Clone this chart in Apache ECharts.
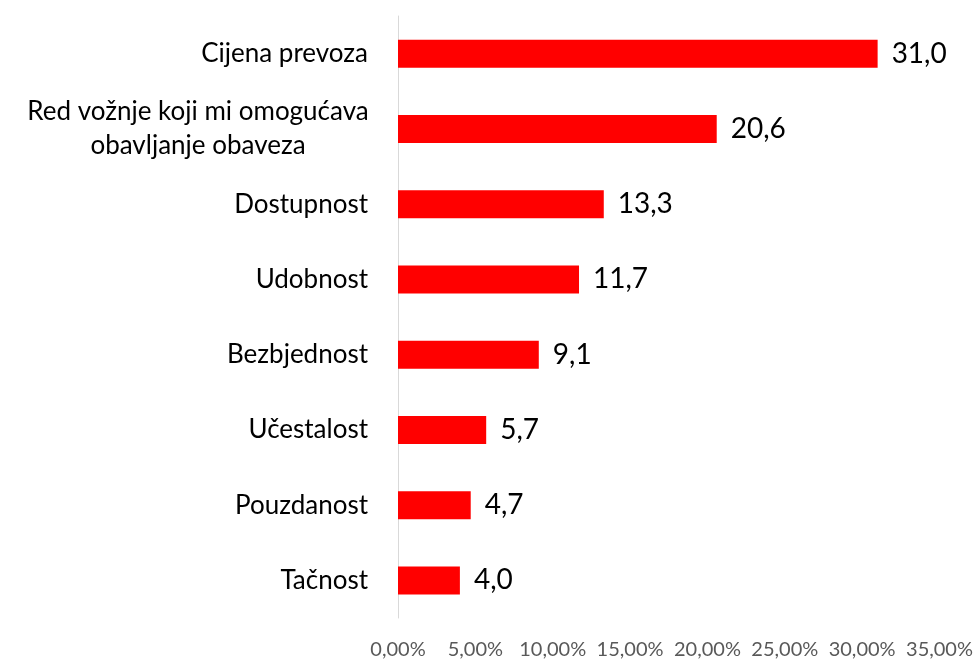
<!DOCTYPE html>
<html>
<head>
<meta charset="utf-8">
<script src="https://cdn.jsdelivr.net/npm/echarts@6/dist/echarts.min.js"></script>
<style>
html, body { margin: 0; padding: 0; background: #fff; }
#chart { width: 976px; height: 660px; }
</style>
</head>
<body>
<div id="chart"></div>
<script>
// kategorije odozgo prema dolje
var categories = ['Cijena prevoza', 'Red vožnje koji mi omogućava\nobavljanje obaveza', 'Dostupnost', 'Udobnost', 'Bezbjednost', 'Učestalost', 'Pouzdanost', 'Tačnost'];
var values = [31.0, 20.6, 13.3, 11.7, 9.1, 5.7, 4.7, 4.0];
var xTicks = [0, 5, 10, 15, 20, 25, 30, 35];

var font = 'Lato, "Open Sans", sans-serif';

var myChart = echarts.init(document.getElementById('chart'));
var option = {
	backgroundColor: '#fff',
	animation: false,
	grid: {
		left: 398,
		right: 36,
		top: 16,
		bottom: 42
	},
	xAxis: {
		type: 'value',
		min: xTicks[0],
		max: xTicks[xTicks.length - 1],
		interval: 5,
		axisLine: { show: false },
		axisTick: { show: false },
		splitLine: { show: false },
		axisLabel: {
			margin: 22,
			color: '#595959',
			fontSize: 20,
			fontFamily: font,
			formatter: function (v) {
				return v.toFixed(2).replace('.', ',') + '%';
			}
		}
	},
	yAxis: {
		type: 'category',
		inverse: true,
		data: categories,
		axisLine: { show: true, lineStyle: { color: '#d9d9d9', width: 1 } },
		axisTick: { show: false },
		axisLabel: {
			margin: 30,
			color: '#000',
			fontSize: 26,
			fontFamily: font,
			formatter: function (v) {
				// dvoredni natpis centriran unutar bloka
				if (v.indexOf('\n') > -1) {
					return v.split('\n').map(function (s) { return '{c|' + s + '}'; }).join('\n');
				}
				return v;
			},
			rich: {
				c: {
					width: 340,
					align: 'center',
					fontSize: 26,
					lineHeight: 34,
					fontFamily: font,
					color: '#000'
				}
			}
		}
	},
	series: [{
		type: 'bar',
		data: values,
		barWidth: 28,
		itemStyle: { color: '#ff0000' },
		label: {
			show: true,
			position: 'right',
			distance: 14,
			color: '#000',
			fontSize: 28,
			fontFamily: font,
			formatter: function (p) {
				return p.value.toFixed(1).replace('.', ',');
			}
		}
	}]
};
myChart.setOption(option);
</script>
</body>
</html>
